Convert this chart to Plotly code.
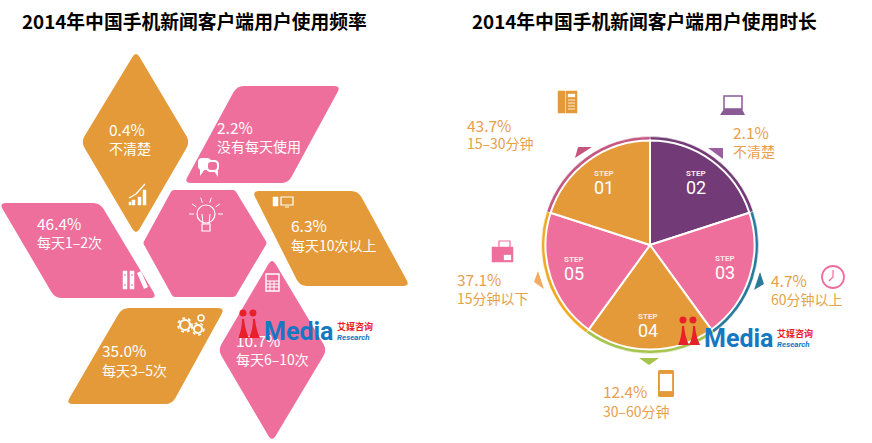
import math
import plotly.graph_objects as go

# ---------- data ----------
TITLE_LEFT = "2014年中国手机新闻客户端用户使用频率"
TITLE_RIGHT = "2014年中国手机新闻客户端用户使用时长"

freq_categories = ["不清楚", "没有每天使用", "每天10次以上", "每天6–10次", "每天3–5次", "每天1–2次"]
freq_values = ["0.4%", "2.2%", "6.3%", "10.7%", "35.0%", "46.4%"]

time_categories = ["不清楚", "60分钟以上", "30–60分钟", "15分钟以下", "15–30分钟"]
time_values = ["2.1%", "4.7%", "12.4%", "37.1%", "43.7%"]

step_labels = ["02", "03", "04", "05", "01"]
step_sizes = [1, 1, 1, 1, 1]   # the wheel is drawn with equal slices

ORANGE = "#e49a38"
PINK = "#ee6f9c"
PURPLE = "#723a76"
LABEL = "#e8a04a"
step_colors = [PURPLE, PINK, ORANGE, PINK, ORANGE]
ring_colors = [PURPLE, "#2b7a9c", "#a6c34b", "#f0a920", "#c4577f"]
CJK = "Noto Sans CJK SC"

# ---------- layout geometry (pixels of the 872x443 page) ----------
freq_xy = [(109, 132, 150), (217, 130, 148), (291, 228, 247), (236, 343, 361), (102, 353, 372), (37, 226, 244)]
time_xy = [(733, 135, 153), (771, 283, 301), (603, 394, 413), (457, 282, 300), (467, 128, 145)]
step_xy = [(696, 180), (725, 265), (648, 323), (574, 266), (604, 180)]


def rounded(pts, r=7):
    n = len(pts)
    d = ""
    for i, (x, y) in enumerate(pts):
        px, py = pts[i - 1]
        nx, ny = pts[(i + 1) % n]
        l1 = math.hypot(px - x, py - y)
        l2 = math.hypot(nx - x, ny - y)
        a = (x + (px - x) * r / l1, y + (py - y) * r / l1)
        b = (x + (nx - x) * r / l2, y + (ny - y) * r / l2)
        d += f"{'M' if i == 0 else 'L'}{a[0]:.1f},{a[1]:.1f} Q{x},{y} {b[0]:.1f},{b[1]:.1f} "
    return d + "Z"


shapes = []


def poly(pts, color, r=7, layer="below"):
    shapes.append(dict(type="path", path=rounded(pts, r), fillcolor=color, line=dict(width=0), layer=layer))


def rect(x0, y0, x1, y1, color, fill=None, w=1.2, layer="below"):
    shapes.append(dict(type="rect", x0=x0, y0=y0, x1=x1, y1=y1, fillcolor=fill or "rgba(0,0,0,0)",
                       line=dict(color=color, width=w), layer=layer))


def circle(cx, cy, r, color, fill=None, w=1.2, layer="below", dash=None):
    line = dict(color=color, width=w)
    if dash:
        line["dash"] = dash
    shapes.append(dict(type="circle", x0=cx - r, y0=cy - r, x1=cx + r, y1=cy + r,
                       fillcolor=fill or "rgba(0,0,0,0)", line=line, layer=layer))


def stroke(d, color, w=1.2):
    shapes.append(dict(type="path", path=d, line=dict(color=color, width=w), layer="below"))


# left panel tiles
poly([(136, 51), (190, 142), (136, 235), (81, 142)], ORANGE)
poly([(237, 86), (341, 86), (288, 183), (184, 183)], PINK)
poly([(252, 191), (358, 191), (410, 286), (300, 286)], ORANGE)
poly([(172, 190), (235, 190), (267, 243), (235, 297), (173, 297), (143, 243)], PINK, 2)
poly([(-1, 203), (100, 203), (157, 298), (55, 298)], PINK)
poly([(122, 308), (225, 308), (172, 404), (66, 404)], ORANGE)
poly([(272, 258), (327, 350), (272, 442), (218, 350)], PINK)

W = "#ffffff"
# chart icon
for x, top in [(132, 200), (138, 197), (143, 190)]:
    rect(x, top, x + 3, 205, W, W, 0.5)
rect(129, 202, 131, 205, W, W, 0.5)
stroke("M129,198 L136,194 L145,184", W, 1.3)
# speech bubbles
poly([(198, 158), (211, 158), (211, 170), (198, 170)], W, 4)
poly([(200, 169), (205, 169), (200, 176)], W, 0.5)
poly([(206, 160), (219, 160), (219, 172), (206, 172)], W, 5)
poly([(214, 171), (218, 171), (218, 177)], W, 0.5)
poly([(208, 162), (217, 162), (217, 170), (208, 170)], PINK, 3)
# computer
rect(273, 197, 278, 206, W, W, 0.5)
rect(281, 197, 293, 205, W)
stroke("M285,207 L289,207", W, 1)
# bulb
circle(206, 214, 9, W)
rect(202, 224, 210, 231, W)
stroke("M203,224 L202,214 M209,224 L210,214", W, 1)
for a in range(-90, 100, 36):
    t = math.radians(a - 90)
    stroke(f"M{206 + 12 * math.cos(t):.1f},{214 + 12 * math.sin(t):.1f} L{206 + 17 * math.cos(t):.1f},{214 + 17 * math.sin(t):.1f}", W, 1)
# binders
rect(123, 271, 127, 289, W, W, 0.5)
rect(130, 271, 134, 289, W, W, 0.5)
poly([(137, 273), (141, 271), (148, 287), (144, 289)], W, 0.5)
for x in (125, 132):
    stroke(f"M{x - 1},275 L{x + 1},275 M{x - 1},285 L{x + 1},285", PINK, 1)
# gears
circle(185, 325, 5, W, None, 2.2)
circle(185, 325, 7, W, None, 1.6, dash="dot")
circle(198, 329, 4, W, None, 2)
circle(198, 329, 6, W, None, 1.4, dash="dot")
circle(201, 318, 3, W, None, 1.5)
# calculator
rect(266, 274, 279, 291, W, None, 1.4)
for yy in (281, 284, 287):
    stroke(f"M266,{yy} L279,{yy}", W, 1)
for xx in (270, 274):
    stroke(f"M{xx},281 L{xx},291", W, 1)

# wheel markers
poly([(575, 158), (578, 147), (592, 147)], "#c4577f", 0.5)
poly([(708, 148), (723, 148), (723, 159)], "#9b5f9f", 0.5)
poly([(760, 272), (764, 284), (754, 290)], "#2b7a9c", 0.5)
poly([(639, 358), (659, 358), (649, 365)], "#a6c34b", 0.5)
poly([(538, 271), (544, 289), (534, 282)], "#f4aa60", 0.5)

# desk phone
rect(558, 91, 565, 113, ORANGE, ORANGE, 0.5)
rect(566, 91, 577, 113, ORANGE, ORANGE, 0.5)
rect(568, 94, 575, 97, W, W, 0.3)
for yy in (100, 103, 106, 109):
    stroke(f"M568,{yy} L575,{yy}", W, 0.8)
# laptop
rect(724, 96, 742, 109, "#8a5a94", None, 1.5)
poly([(724, 109), (742, 109), (745, 115), (720, 115)], "#8a5a94", 0.5)
# clock
circle(833, 277, 11, PINK, None, 1.8)
stroke("M833,270 L833,277 L829,281", PINK, 1.2)
# fax
rect(499, 241, 510, 250, PINK, None, 1.2)
rect(492, 247, 513, 262, PINK, PINK, 0.5)
rect(504, 255, 511, 260, W, W, 0.3)
# mobile
poly([(658, 370), (674, 370), (674, 397), (658, 397)], ORANGE, 1.5)
rect(660, 374, 672, 391, W, W, 0.2)


# logo: pixel offset lets it repeat
def logo(dx, dy):
    for cx in (243, 253):
        circle(cx + dx, 313 + dy, 3.3, "#e8202a", "#e8202a", 0.5, "above")
    for cx in (243, 254):
        shapes.append(dict(type="path", layer="above", fillcolor="#e8202a", line=dict(width=0),
                           path=f"M{cx - 5 + dx},{338 + dy} Q{cx - 1 + dx},{330 + dy} {cx - 1 + dx},{319 + dy} "
                                f"L{cx + 1 + dx},{319 + dy} Q{cx + 2 + dx},{330 + dy} {cx + 6 + dx},{338 + dy} Z"))


logo(0, 0)
logo(440, 7)

# ---------- traces ----------
fig = go.Figure()

lx = [x for x, _, _ in freq_xy]
fig.add_trace(go.Scatter(x=lx, y=[y for _, y, _ in freq_xy], text=freq_values, mode="text",
                         textposition="middle right", hoverinfo="skip",
                         textfont=dict(family=CJK, size=15.5, color=W)))
fig.add_trace(go.Scatter(x=lx, y=[y for _, _, y in freq_xy], text=freq_categories, mode="text",
                         textposition="middle right", hoverinfo="skip",
                         textfont=dict(family=CJK, size=14, color=W)))
rx = [x for x, _, _ in time_xy]
fig.add_trace(go.Scatter(x=rx, y=[y for _, y, _ in time_xy], text=time_values, mode="text",
                         textposition="middle right", hoverinfo="skip",
                         textfont=dict(family=CJK, size=15.5, color=LABEL)))
fig.add_trace(go.Scatter(x=rx, y=[y for _, _, y in time_xy], text=time_categories, mode="text",
                         textposition="middle right", hoverinfo="skip",
                         textfont=dict(family=CJK, size=14, color=LABEL)))

PW, PH = 872, 443


def domain(cx, cy, r):
    return dict(x=[(cx - r) / PW, (cx + r) / PW], y=[1 - (cy + r) / PH, 1 - (cy - r) / PH])


fig.add_trace(go.Pie(values=step_sizes, labels=step_labels, sort=False, direction="clockwise", rotation=0,
                     domain=domain(650, 245, 108.5), hole=0.9, textinfo="none", hoverinfo="skip",
                     marker=dict(colors=ring_colors, line=dict(color=W, width=0.5)), showlegend=False))
fig.add_trace(go.Pie(values=step_sizes, labels=step_labels, sort=False, direction="clockwise", rotation=0,
                     domain=domain(650, 245, 104.5), textinfo="none", hoverinfo="label",
                     marker=dict(colors=step_colors, line=dict(color=W, width=2)), showlegend=False))

annotations = []


def note(x, y, text, size, color, family=CJK, anchor="center"):
    annotations.append(dict(x=x, y=y, text=text, showarrow=False, xanchor=anchor, yanchor="middle",
                            font=dict(size=size, color=color, family=family)))


note(194, 20, f"<b>{TITLE_LEFT}</b>", 18.8, "#000000")
note(644, 20, f"<b>{TITLE_RIGHT}</b>", 18.8, "#000000")
for s, (x, y) in zip(step_labels, step_xy):
    note(x, y - 7, "<b>STEP</b>", 8, "#f6e9e4", "Roboto")
    note(x, y + 7, s, 18, W, "Roboto")
for dx, dy in ((0, 0), (440, 7)):
    note(262 + dx, 331 + dy, "<b>Media</b>", 25, "#1578c2", "Roboto", "left")
    note(335 + dx, 326 + dy, "<b>艾媒咨询</b>", 9, "#e8202a", CJK, "left")
    note(335 + dx, 337.5 + dy, "<b><i>Research</i></b>", 8, "#1578c2", "Roboto", "left")

fig.update_layout(
    width=PW, height=PH, margin=dict(l=0, r=0, t=0, b=0),
    paper_bgcolor="#ffffff", plot_bgcolor="#ffffff", showlegend=False,
    xaxis=dict(range=[0, PW], visible=False, fixedrange=True),
    yaxis=dict(range=[PH, 0], visible=False, fixedrange=True),
    shapes=shapes, annotations=annotations,
)
fig.write_html("out.html", config=dict(displayModeBar=False),
               post_script="document.body.style.margin='0';")
